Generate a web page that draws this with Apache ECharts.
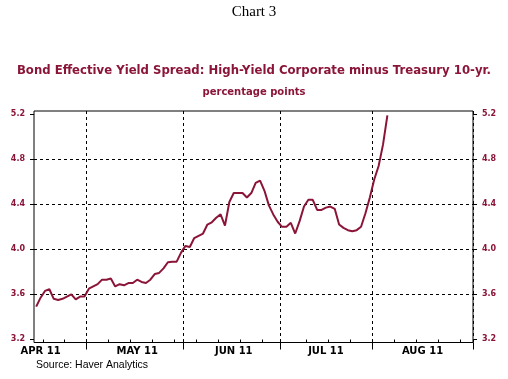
<!DOCTYPE html>
<html><head><meta charset="utf-8">
<script src="https://cdn.jsdelivr.net/npm/echarts@6/dist/echarts.min.js"></script>
<style>html,body{margin:0;padding:0;background:#fff}#c{width:508px;height:379px}</style>
</head><body><div id="c"></div>
<script>
// ---- data ----
const chartTitle = 'Chart 3';
const seriesTitle = 'Bond Effective Yield Spread: High-Yield Corporate minus Treasury 10-yr.';
const unitTitle = 'percentage points';
const sourceText = 'Source: Haver Analytics';
const axisStart = '2011-04-14';
const axisEnd = '2011-08-31';
const monthNames = {'04':'APR 11','05':'MAY 11','06':'JUN 11','07':'JUL 11','08':'AUG 11'};
const yTicks = [3.2, 3.6, 4.0, 4.4, 4.8, 5.2];
const aprValues = [3.49,3.57,3.63,3.645,3.56,3.55,3.56,3.58,3.60,3.555,3.58,3.58];
const mayValues = [3.65,3.67,3.69,3.73,3.73,3.74,3.67,3.69,3.68,3.70,3.70,3.73,3.71,3.70,3.73,3.78,3.79,3.83,3.885,3.89,3.89,3.97];
const junValues = [4.03,4.02,4.10,4.12,4.14,4.22,4.24,4.28,4.31,4.21,4.42,4.50,4.50,4.50,4.46,4.50,4.59,4.61,4.52,4.39,4.31,4.245];
const julValues = [4.20,4.20,4.235,4.14,4.25,4.38,4.44,4.44,4.35,4.35,4.37,4.38,4.36,4.22,4.19,4.17,4.16,4.17,4.20,4.32,4.46];
const augValues = [4.62,4.74,4.93,5.19];

// ---- business-day categories ----
function businessDays(start, end) {
  const out = [];
  const d = new Date(start + 'T00:00:00Z');
  const e = new Date(end + 'T00:00:00Z');
  while (d <= e) {
    const w = d.getUTCDay();
    if (w !== 0 && w !== 6) out.push(d.toISOString().slice(0, 10));
    d.setUTCDate(d.getUTCDate() + 1);
  }
  return out;
}
const categories = businessDays(axisStart, axisEnd);
const values = [].concat(aprValues, mayValues, junValues, julValues, augValues);

const monthOf = i => categories[i].slice(5, 7);
const isMonthStart = i => i > 0 && monthOf(i) !== monthOf(i - 1);
const monthStarts = categories.map((_, i) => i).filter(isMonthStart);
const isWeekTick = i => {
  if (new Date(categories[i] + 'T00:00:00Z').getUTCDay() !== 1) return false;
  return !monthStarts.some(m => Math.abs(m - i) <= 1);
};
// label index: middle of each month (first, partial month near its start)
const labelIdx = {};
(function () {
  const groups = {};
  categories.forEach((c, i) => { const m = monthOf(i); (groups[m] = groups[m] || []).push(i); });
  Object.keys(groups).forEach((m, k) => {
    const g = groups[m];
    const idx = k === 0 ? g[0] + 1 : Math.ceil((g[0] + g[g.length - 1]) / 2);
    labelIdx[idx] = monthNames[m];
  });
})();

const RED = '#8B1538';
const chart = echarts.init(document.getElementById('c'), null, {renderer: 'canvas'});
const dash = [3, 3];
const yAxisBase = {
  type: 'value', min: 3.1716, max: 5.229,
  axisLine: {show: false},
  axisTick: {show: true, length: 4, lineStyle: {color: '#000'}, customValues: yTicks},
  axisLabel: {customValues: yTicks, margin: 9, color: RED, fontFamily: 'DejaVu Sans', fontWeight: 'bold', fontSize: 8,
    formatter: v => v.toFixed(1)}
};
chart.setOption({
  animation: false,
  backgroundColor: '#fff',
  grid: {left: 34, right: 35, top: 111, bottom: 36.5, show: true, borderColor: '#000', borderWidth: 1, containLabel: false},
  graphic: [
    {type: 'text', x: 254, y: 12, style: {text: chartTitle, align: 'center', verticalAlign: 'middle', fill: '#000', font: '15px "Liberation Serif"'}},
    {type: 'text', x: 254, y: 70.5, style: {text: seriesTitle, align: 'center', verticalAlign: 'middle', fill: RED, font: 'bold 11.7px "DejaVu Sans"'}},
    {type: 'text', x: 254, y: 92, style: {text: unitTitle, align: 'center', verticalAlign: 'middle', fill: RED, font: 'bold 10px "DejaVu Sans"'}},
    {type: 'text', x: 36, y: 365, style: {text: sourceText, align: 'left', verticalAlign: 'middle', fill: '#000', font: '10.5px "Liberation Sans"'}}
  ],
  xAxis: [
    {
      type: 'category', data: categories, boundaryGap: true, position: 'bottom',
      axisLine: {show: false},
      axisTick: {show: true, length: 7, interval: (i) => isMonthStart(i), lineStyle: {color: '#000'}},
      axisLabel: {interval: (i) => labelIdx[i] !== undefined, formatter: (v, i) => labelIdx[i] || '',
        margin: 4, color: '#000', fontFamily: 'DejaVu Sans', fontWeight: 'bold', fontSize: 10},
      splitLine: {show: true, interval: (i) => isMonthStart(i), lineStyle: {color: '#000', type: dash, width: 1}}
    },
    {
      type: 'category', data: categories, boundaryGap: true, position: 'bottom',
      axisLine: {show: false},
      axisTick: {show: true, inside: true, length: 3, interval: (i) => isWeekTick(i), lineStyle: {color: '#000'}},
      axisLabel: {show: false},
      splitLine: {show: false}
    }
  ],
  yAxis: [
    Object.assign({}, yAxisBase, {position: 'left',
      splitLine: {show: true, lineStyle: {color: ['rgba(0,0,0,0)', '#000', '#000', '#000', '#000', 'rgba(0,0,0,0)'], type: dash, width: 1}}}),
    Object.assign({}, yAxisBase, {position: 'right', splitLine: {show: false}})
  ],
  series: [{
    type: 'line', data: values, xAxisIndex: 0, yAxisIndex: 0,
    symbol: 'none', lineStyle: {color: RED, width: 2}, itemStyle: {color: RED}
  }]
});
</script>
</body></html>
